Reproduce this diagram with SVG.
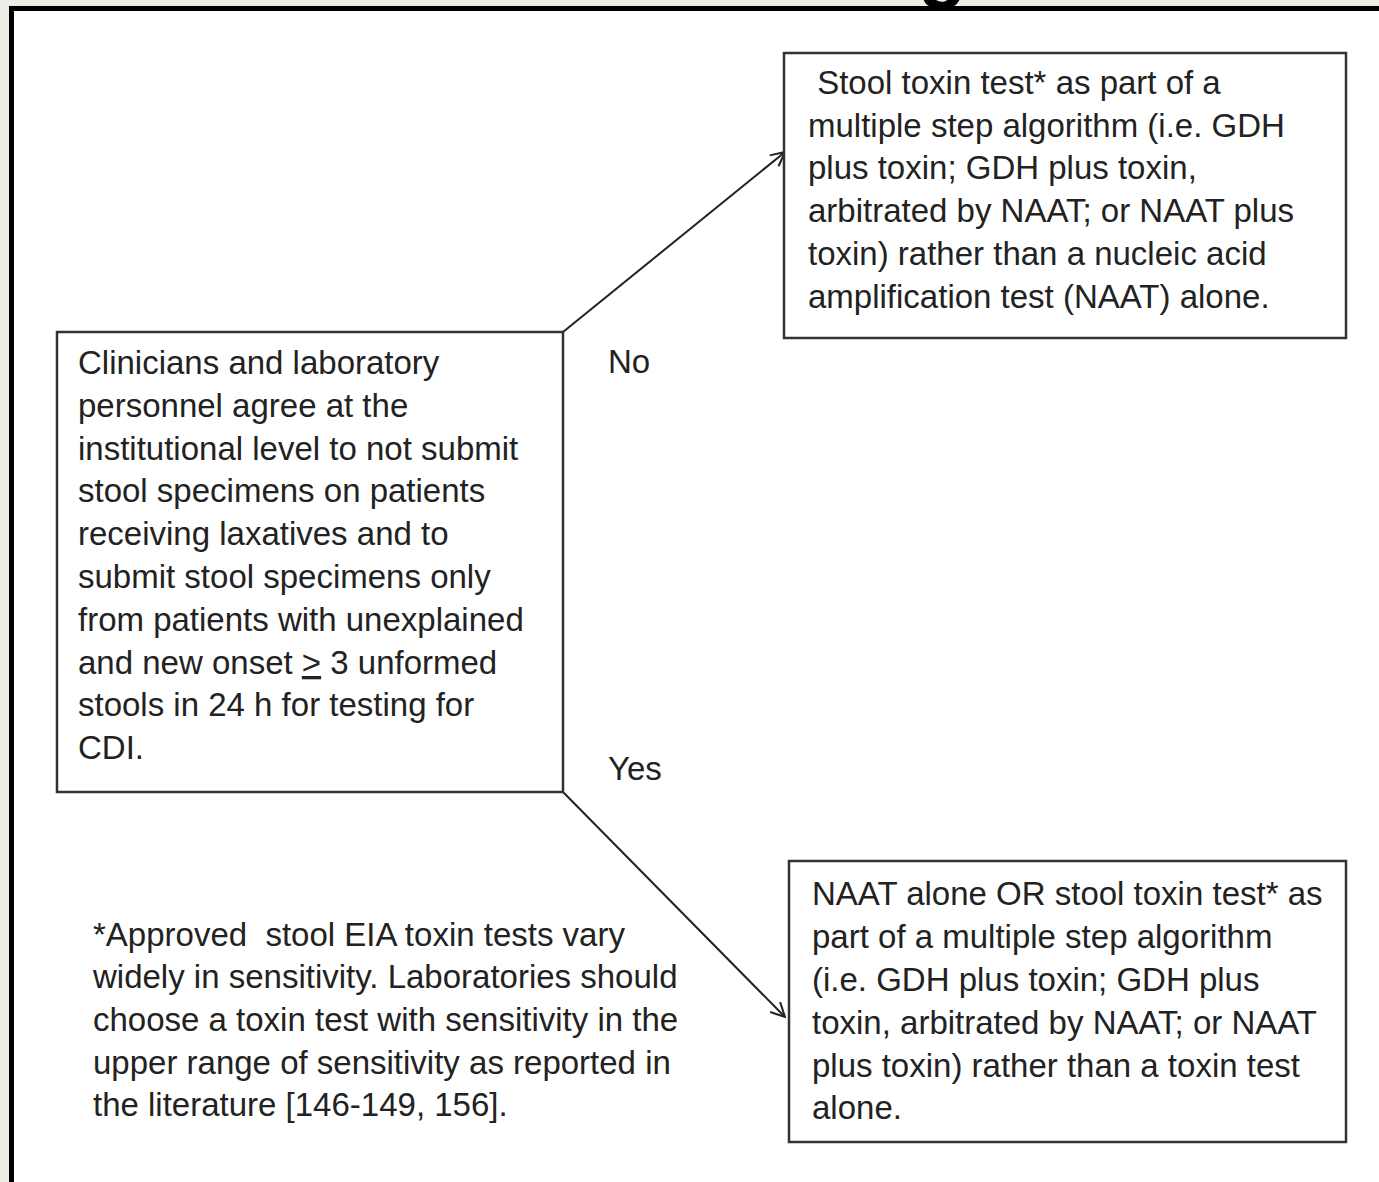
<svg xmlns="http://www.w3.org/2000/svg" width="1379" height="1182" viewBox="0 0 1379 1182">
<style>
  .box { fill: #ffffff; stroke: #333333; stroke-width: 2.5; }
  .t { font-family: "Liberation Sans", Arial, sans-serif; font-size: 33px; fill: #222222; }
  .edge { stroke: #222222; stroke-width: 2; fill: none; }
</style>
<defs>
  <marker id="arr" viewBox="0 0 16 16" refX="15" refY="8" markerWidth="16" markerHeight="16" markerUnits="userSpaceOnUse" orient="auto">
    <path d="M1,1 L15,8 L1,15" fill="none" stroke="#222222" stroke-width="2"/>
  </marker>
</defs>
<rect x="0" y="0" width="1379" height="1182" fill="#ffffff"/>
<rect x="0" y="0" width="1379" height="6" fill="#efeee6"/>
<rect x="0" y="0" width="9" height="1182" fill="#efeee6"/>
<text x="918" y="-8" style="font-family: 'Liberation Sans', Arial, sans-serif; font-size: 80px; font-weight: bold;" fill="#000000">g</text>
<rect x="9" y="6" width="1370" height="5" fill="#000000"/>
<rect x="9" y="6" width="5" height="1176" fill="#000000"/>

<g id="connectors">
  <line class="edge" x1="563" y1="332" x2="785" y2="152" marker-end="url(#arr)"/>
  <line class="edge" x1="563" y1="792" x2="785" y2="1017" marker-end="url(#arr)"/>
  <text class="t" x="608" y="373">No</text>
  <text class="t" x="608" y="780">Yes</text>
</g>

<g id="node-criteria">
  <rect class="box" x="57" y="332" width="506" height="460"/>
  <text class="t" x="78" y="374">Clinicians and laboratory</text>
  <text class="t" x="78" y="417">personnel agree at the</text>
  <text class="t" x="78" y="460">institutional level to not submit</text>
  <text class="t" x="78" y="502">stool specimens on patients</text>
  <text class="t" x="78" y="545">receiving laxatives and to</text>
  <text class="t" x="78" y="588">submit stool specimens only</text>
  <text class="t" x="78" y="631">from patients with unexplained</text>
  <text class="t" x="78" y="674">and new onset <tspan text-decoration="underline">&gt;</tspan> 3 unformed</text>
  <text class="t" x="78" y="716">stools in 24 h for testing for</text>
  <text class="t" x="78" y="759">CDI.</text>
</g>

<g id="node-no">
  <rect class="box" x="784" y="53" width="562" height="285"/>
  <text class="t" x="808" y="94" xml:space="preserve"> Stool toxin test* as part of a</text>
  <text class="t" x="808" y="137">multiple step algorithm (i.e. GDH</text>
  <text class="t" x="808" y="179">plus toxin; GDH plus toxin,</text>
  <text class="t" x="808" y="222">arbitrated by NAAT; or NAAT plus</text>
  <text class="t" x="808" y="265">toxin) rather than a nucleic acid</text>
  <text class="t" x="808" y="308">amplification test (NAAT) alone.</text>
</g>

<g id="node-yes">
  <rect class="box" x="789" y="861" width="557" height="281"/>
  <text class="t" x="812" y="905">NAAT alone OR stool toxin test* as</text>
  <text class="t" x="812" y="948">part of a multiple step algorithm</text>
  <text class="t" x="812" y="991">(i.e. GDH plus toxin; GDH plus</text>
  <text class="t" x="812" y="1034">toxin, arbitrated by NAAT; or NAAT</text>
  <text class="t" x="812" y="1077">plus toxin) rather than a toxin test</text>
  <text class="t" x="812" y="1119">alone.</text>
</g>

<g id="footnote">
  <text class="t" x="93" y="946" xml:space="preserve">*Approved  stool EIA toxin tests vary</text>
  <text class="t" x="93" y="988">widely in sensitivity. Laboratories should</text>
  <text class="t" x="93" y="1031">choose a toxin test with sensitivity in the</text>
  <text class="t" x="93" y="1074">upper range of sensitivity as reported in</text>
  <text class="t" x="93" y="1116">the literature [146-149, 156].</text>
</g>
</svg>
